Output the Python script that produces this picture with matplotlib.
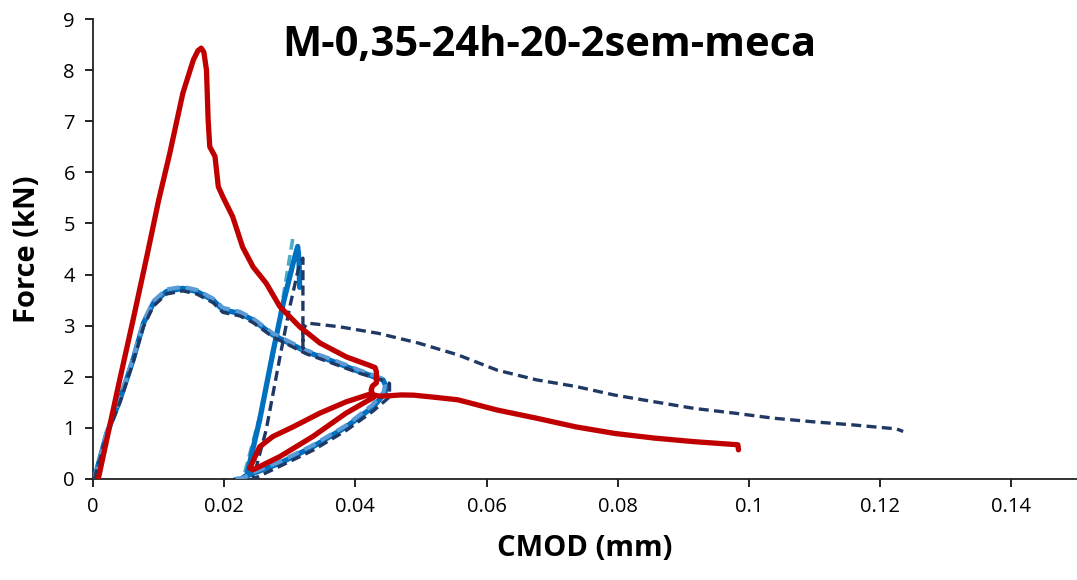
import matplotlib
matplotlib.use("Agg")
import matplotlib.pyplot as plt

# essai 1 (rouge)
cmod_rouge = [0.0008, 0.0040, 0.0060, 0.0082, 0.0100, 0.0117,
              0.0137, 0.0153, 0.0160, 0.0165, 0.0169, 0.0173, 0.01755, 0.0178,
              0.0186, 0.0191, 0.0198, 0.0213, 0.0228, 0.0244, 0.0264, 0.0285, 0.0315,
              0.0346, 0.0386, 0.0420, 0.0430, 0.0432, 0.0432, 0.0426, 0.0424, 0.0428,
              0.0386, 0.0335, 0.0285, 0.0244,
              0.0239, 0.0254, 0.0274, 0.0305, 0.0346, 0.0386, 0.0422, 0.0437,
              0.0453, 0.0470, 0.0489, 0.0520, 0.0556, 0.0616, 0.0676, 0.0736, 0.0796,
              0.0856, 0.0917, 0.0983, 0.0984]
force_rouge = [0.0, 1.90, 3.05, 4.35, 5.45, 6.37,
               7.55, 8.20, 8.38, 8.43, 8.35, 8.00, 7.03, 6.50,
               6.31, 5.72, 5.52, 5.13, 4.54, 4.15, 3.83, 3.37, 2.98,
               2.66, 2.39, 2.23, 2.18, 2.10, 1.88, 1.82, 1.74, 1.60,
               1.29, 0.83, 0.44, 0.18,
               0.21, 0.63, 0.83, 1.02, 1.29, 1.51, 1.66, 1.62,
               1.63, 1.645, 1.64, 1.60, 1.55, 1.35, 1.19, 1.02, 0.89,
               0.80, 0.73, 0.67, 0.57]

# essai 2 (bleu)
cmod_bleu = [0.0002, 0.0021, 0.0041, 0.0061, 0.0077, 0.0092, 0.0112, 0.0137, 0.0158,
             0.0183, 0.0198, 0.0224, 0.0244, 0.0274, 0.0305, 0.0325, 0.0366, 0.0406,
             0.0442, 0.0447, 0.0445, 0.0427, 0.0386, 0.0335, 0.0285, 0.0244, 0.0229,
             0.0234, 0.0254, 0.0274, 0.0290, 0.0305, 0.0312, 0.0314, 0.0315]
force_bleu = [0.0, 0.89, 1.55, 2.33, 3.05, 3.44, 3.67, 3.73, 3.67,
              3.50, 3.31, 3.24, 3.11, 2.82, 2.62, 2.49, 2.30, 2.10,
              1.94, 1.81, 1.68, 1.41, 1.02, 0.63, 0.31, 0.11, 0.03,
              0.05, 1.15, 2.46, 3.44, 4.22, 4.55, 4.30, 3.75]

# essai 2 bis (bleu clair pointille)
cmod_bleu_clair = [0.0002, 0.0021, 0.0041, 0.0061, 0.0077, 0.0092, 0.0112, 0.0137, 0.0158,
                   0.0183, 0.0198, 0.0224, 0.0244, 0.0274, 0.0305, 0.0325, 0.0366, 0.0406,
                   0.0440, 0.0445, 0.0443, 0.0425, 0.0386, 0.0335, 0.0285, 0.0244, 0.0229, 0.0213]
force_bleu_clair = [0.0, 0.92, 1.58, 2.36, 3.08, 3.48, 3.71, 3.76, 3.70,
                    3.53, 3.35, 3.27, 3.14, 2.85, 2.65, 2.52, 2.33, 2.13,
                    1.97, 1.84, 1.70, 1.44, 1.05, 0.66, 0.34, 0.13, 0.02, 0.0]

# essai 3 (pointille fonce)
cmod_fonce = [0.0002, 0.0021, 0.0041, 0.0061, 0.0077, 0.0092, 0.0112, 0.0137, 0.0158,
              0.0183, 0.0198, 0.0224, 0.0244, 0.0274, 0.0305, 0.0325, 0.0366, 0.0406,
              0.0445, 0.0452, 0.0452, 0.0447, 0.0427, 0.0386, 0.0335, 0.0285, 0.0254,
              0.0244, 0.0264, 0.0285, 0.0300, 0.0315, 0.0320, 0.0320, 0.0320, 0.0321,
              0.0327, 0.0375, 0.0435, 0.0496, 0.0556, 0.0616, 0.0676, 0.0736, 0.0796,
              0.0856, 0.0917, 0.0977, 0.1037, 0.1097, 0.1157, 0.1225, 0.1235]
force_fonce = [0.0, 0.85, 1.50, 2.28, 2.98, 3.38, 3.62, 3.68, 3.62,
               3.45, 3.26, 3.19, 3.06, 2.78, 2.58, 2.45, 2.26, 2.07,
               1.92, 1.87, 1.61, 1.55, 1.33, 0.95, 0.56, 0.25, 0.06,
               0.0, 0.96, 2.39, 3.37, 4.22, 4.32, 2.56, 2.85, 2.95,
               3.05, 2.98, 2.85, 2.66, 2.43, 2.13, 1.94, 1.81, 1.64,
               1.51, 1.38, 1.29, 1.19, 1.12, 1.06, 0.98, 0.93]

# pente de recharge (cyan pointille)
cmod_pente = [0.0214, 0.0229, 0.0254, 0.0274, 0.0290, 0.0305]
force_pente = [0.0, 0.01, 1.22, 2.39, 3.57, 4.74]

x_ticks = [0, 0.02, 0.04, 0.06, 0.08, 0.1, 0.12, 0.14]
x_tick_labels = ["0", "0.02", "0.04", "0.06", "0.08", "0.1", "0.12", "0.14"]
y_ticks = list(range(0, 10))

plt.rcParams['font.family'] = ['Open Sans', 'DejaVu Sans']

fig = plt.figure(figsize=(10.77, 5.80), dpi=100)
ax = fig.add_axes([93 / 1077, 101 / 580, 984 / 1077, 460 / 580])

ax.plot(cmod_pente, force_pente, color='#4BACC6', lw=2.6, ls=(0, (3, 1.5)), zorder=2)
ax.plot(cmod_bleu, force_bleu, color='#0070C0', lw=3.8, solid_capstyle='round',
        solid_joinstyle='round', zorder=3)
ax.plot(cmod_bleu_clair, force_bleu_clair, color='#5B9BD5', lw=3.0, ls=(0, (3, 1.5)), zorder=4)
ax.plot(cmod_fonce, force_fonce, color='#1F3864', lw=2.4, ls=(0, (3, 1.6)), zorder=4)
ax.plot(cmod_rouge, force_rouge, color='#C00000', lw=3.8, solid_capstyle='round',
        solid_joinstyle='round', zorder=5)

ax.set_xlim(0, 0.15)
ax.set_ylim(0, 9)
ax.set_xticks(x_ticks)
ax.set_xticklabels(x_tick_labels)
ax.set_yticks(y_ticks)
ax.tick_params(axis='both', direction='out', length=6, width=1.2, labelsize=14.5, colors='black')
ax.tick_params(axis='x', pad=7)
ax.tick_params(axis='y', pad=7)
for s in ['top', 'right']:
    ax.spines[s].set_visible(False)
for s in ['left', 'bottom']:
    ax.spines[s].set_linewidth(1.3)
    ax.spines[s].set_color('#222222')

ax.set_xlabel('CMOD (mm)', fontsize=21, fontweight='bold', labelpad=12)
ax.set_ylabel('Force (kN)', fontsize=21, fontweight='bold', labelpad=15)
ax.text(0.0696, 8.49, 'M-0,35-24h-20-2sem-meca', ha='center', va='center',
        fontsize=30, fontweight='bold')

fig.savefig('out.png', dpi=100)
